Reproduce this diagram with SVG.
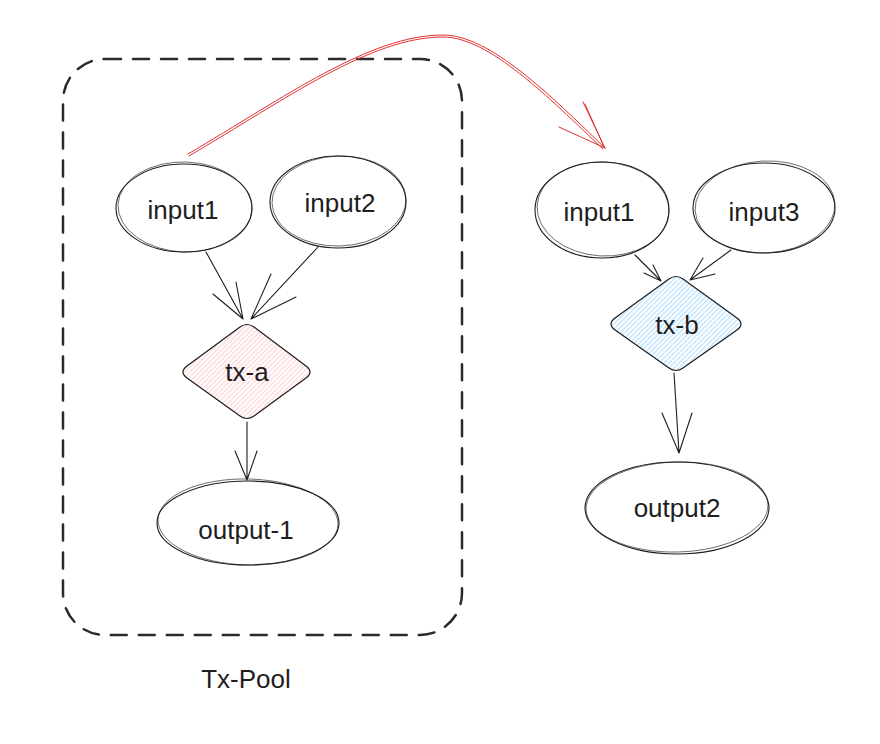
<svg xmlns="http://www.w3.org/2000/svg" width="880" height="744" viewBox="0 0 880 744">
<defs>
<style>
.t{font-family:"Liberation Sans",Arial,Helvetica,sans-serif;font-size:26px;fill:#1e1e1e;text-anchor:middle}
.sk{fill:none;stroke:#1e1e1e;stroke-width:1.1}
.sk2{fill:none;stroke:#1e1e1e;stroke-width:0.8;opacity:0.8}
.ar{fill:none;stroke:#1e1e1e;stroke-width:1.1;stroke-linecap:round}
.red{fill:none;stroke:#e03131;stroke-width:1;stroke-linecap:round}
</style>
<pattern id="hPink" width="3.5" height="3.5" patternUnits="userSpaceOnUse" patternTransform="rotate(-45)">
<line x1="0" y1="1.75" x2="3.5" y2="1.75" stroke="#ffc9c9" stroke-width="1"/>
</pattern>
<pattern id="hBlue" width="3.5" height="3.5" patternUnits="userSpaceOnUse" patternTransform="rotate(-45)">
<line x1="0" y1="1.75" x2="3.5" y2="1.75" stroke="#a5d8ff" stroke-width="1"/>
</pattern>
</defs>
<rect width="880" height="744" fill="#ffffff"/>

<g id="tx-pool">
<rect x="63" y="59" width="399" height="576" rx="42" ry="42" fill="none" stroke="#2b2b2b" stroke-width="2.5" stroke-dasharray="16 12" stroke-linecap="round"/>
<text class="t" x="246" y="688">Tx-Pool</text>
</g>

<g id="a-input1">
<ellipse class="sk" cx="184" cy="208" rx="68" ry="44"/>
<ellipse class="sk2" cx="185" cy="207" rx="67" ry="45" transform="rotate(2 185 207)"/>
<text class="t" x="183" y="219">input1</text>
</g>
<g id="a-input2">
<ellipse class="sk" cx="338" cy="202" rx="68" ry="46"/>
<ellipse class="sk2" cx="339" cy="201" rx="67" ry="45" transform="rotate(-2 339 201)"/>
<text class="t" x="340" y="212">input2</text>
</g>
<g id="tx-a">
<path d="M240,327 Q247,322 254,327 L306,366 Q314,372 306,378 L254,416 Q247,421 240,416 L187,378 Q179,372 187,366 Z" fill="url(#hPink)" stroke="#1e1e1e" stroke-width="1.2"/>
<text class="t" x="247" y="381">tx-a</text>
</g>
<g id="output-1">
<ellipse class="sk" cx="248" cy="523" rx="91" ry="42"/>
<ellipse class="sk2" cx="248" cy="522" rx="90" ry="43" transform="rotate(1.5 248 522)"/>
<text class="t" x="246" y="539">output-1</text>
</g>

<g id="b-input1">
<ellipse class="sk" cx="602" cy="210" rx="67" ry="48"/>
<ellipse class="sk2" cx="603" cy="209" rx="66" ry="47" transform="rotate(3 603 209)"/>
<text class="t" x="599" y="221">input1</text>
</g>
<g id="b-input3">
<ellipse class="sk" cx="764" cy="208" rx="71" ry="45"/>
<ellipse class="sk2" cx="765" cy="207" rx="70" ry="46" transform="rotate(-3 765 207)"/>
<text class="t" x="764" y="221">input3</text>
</g>
<g id="tx-b">
<path d="M669,279 Q676,274 683,279 L737,318 Q745,324 737,330 L683,368 Q676,373 669,368 L615,330 Q607,324 615,318 Z" fill="url(#hBlue)" stroke="#1e1e1e" stroke-width="1.2"/>
<text class="t" x="677" y="334">tx-b</text>
</g>
<g id="output2">
<ellipse class="sk" cx="677" cy="508" rx="92" ry="46"/>
<ellipse class="sk2" cx="677" cy="507" rx="91" ry="45" transform="rotate(-1.5 677 507)"/>
<text class="t" x="677" y="517">output2</text>
</g>

<g id="connectors">
<path class="ar" d="M206,252 L243,319 M213,294 L243,319 M236,282 L243,319"/>
<path class="ar" d="M318,247 L251,319 M271,274 L251,319 M296,297 L251,319"/>
<path class="ar" d="M247,422 L247,480 M235,451 L247,480 M257,451 L247,480"/>
<path class="ar" d="M635,255 L661,281 M653,265 L661,281 M644,273 L661,281"/>
<path class="ar" d="M731,250 L690,280 M703,258 L690,280 M715,274 L690,280"/>
<path class="ar" d="M674,373 L679,453 M662,413 L679,453 M692,413 L679,453"/>
<path class="red" d="M188,154 C285,97 370,35 443,35 C490,35 550,95 605,148"/>
<path class="red" d="M189,156 C286,99 371,37 443,37 C489,37 548,97 603,149"/>
<path class="red" d="M583,102 L605,148 M559,127 L605,148 M585,104 L604,147"/>
</g>
</svg>
